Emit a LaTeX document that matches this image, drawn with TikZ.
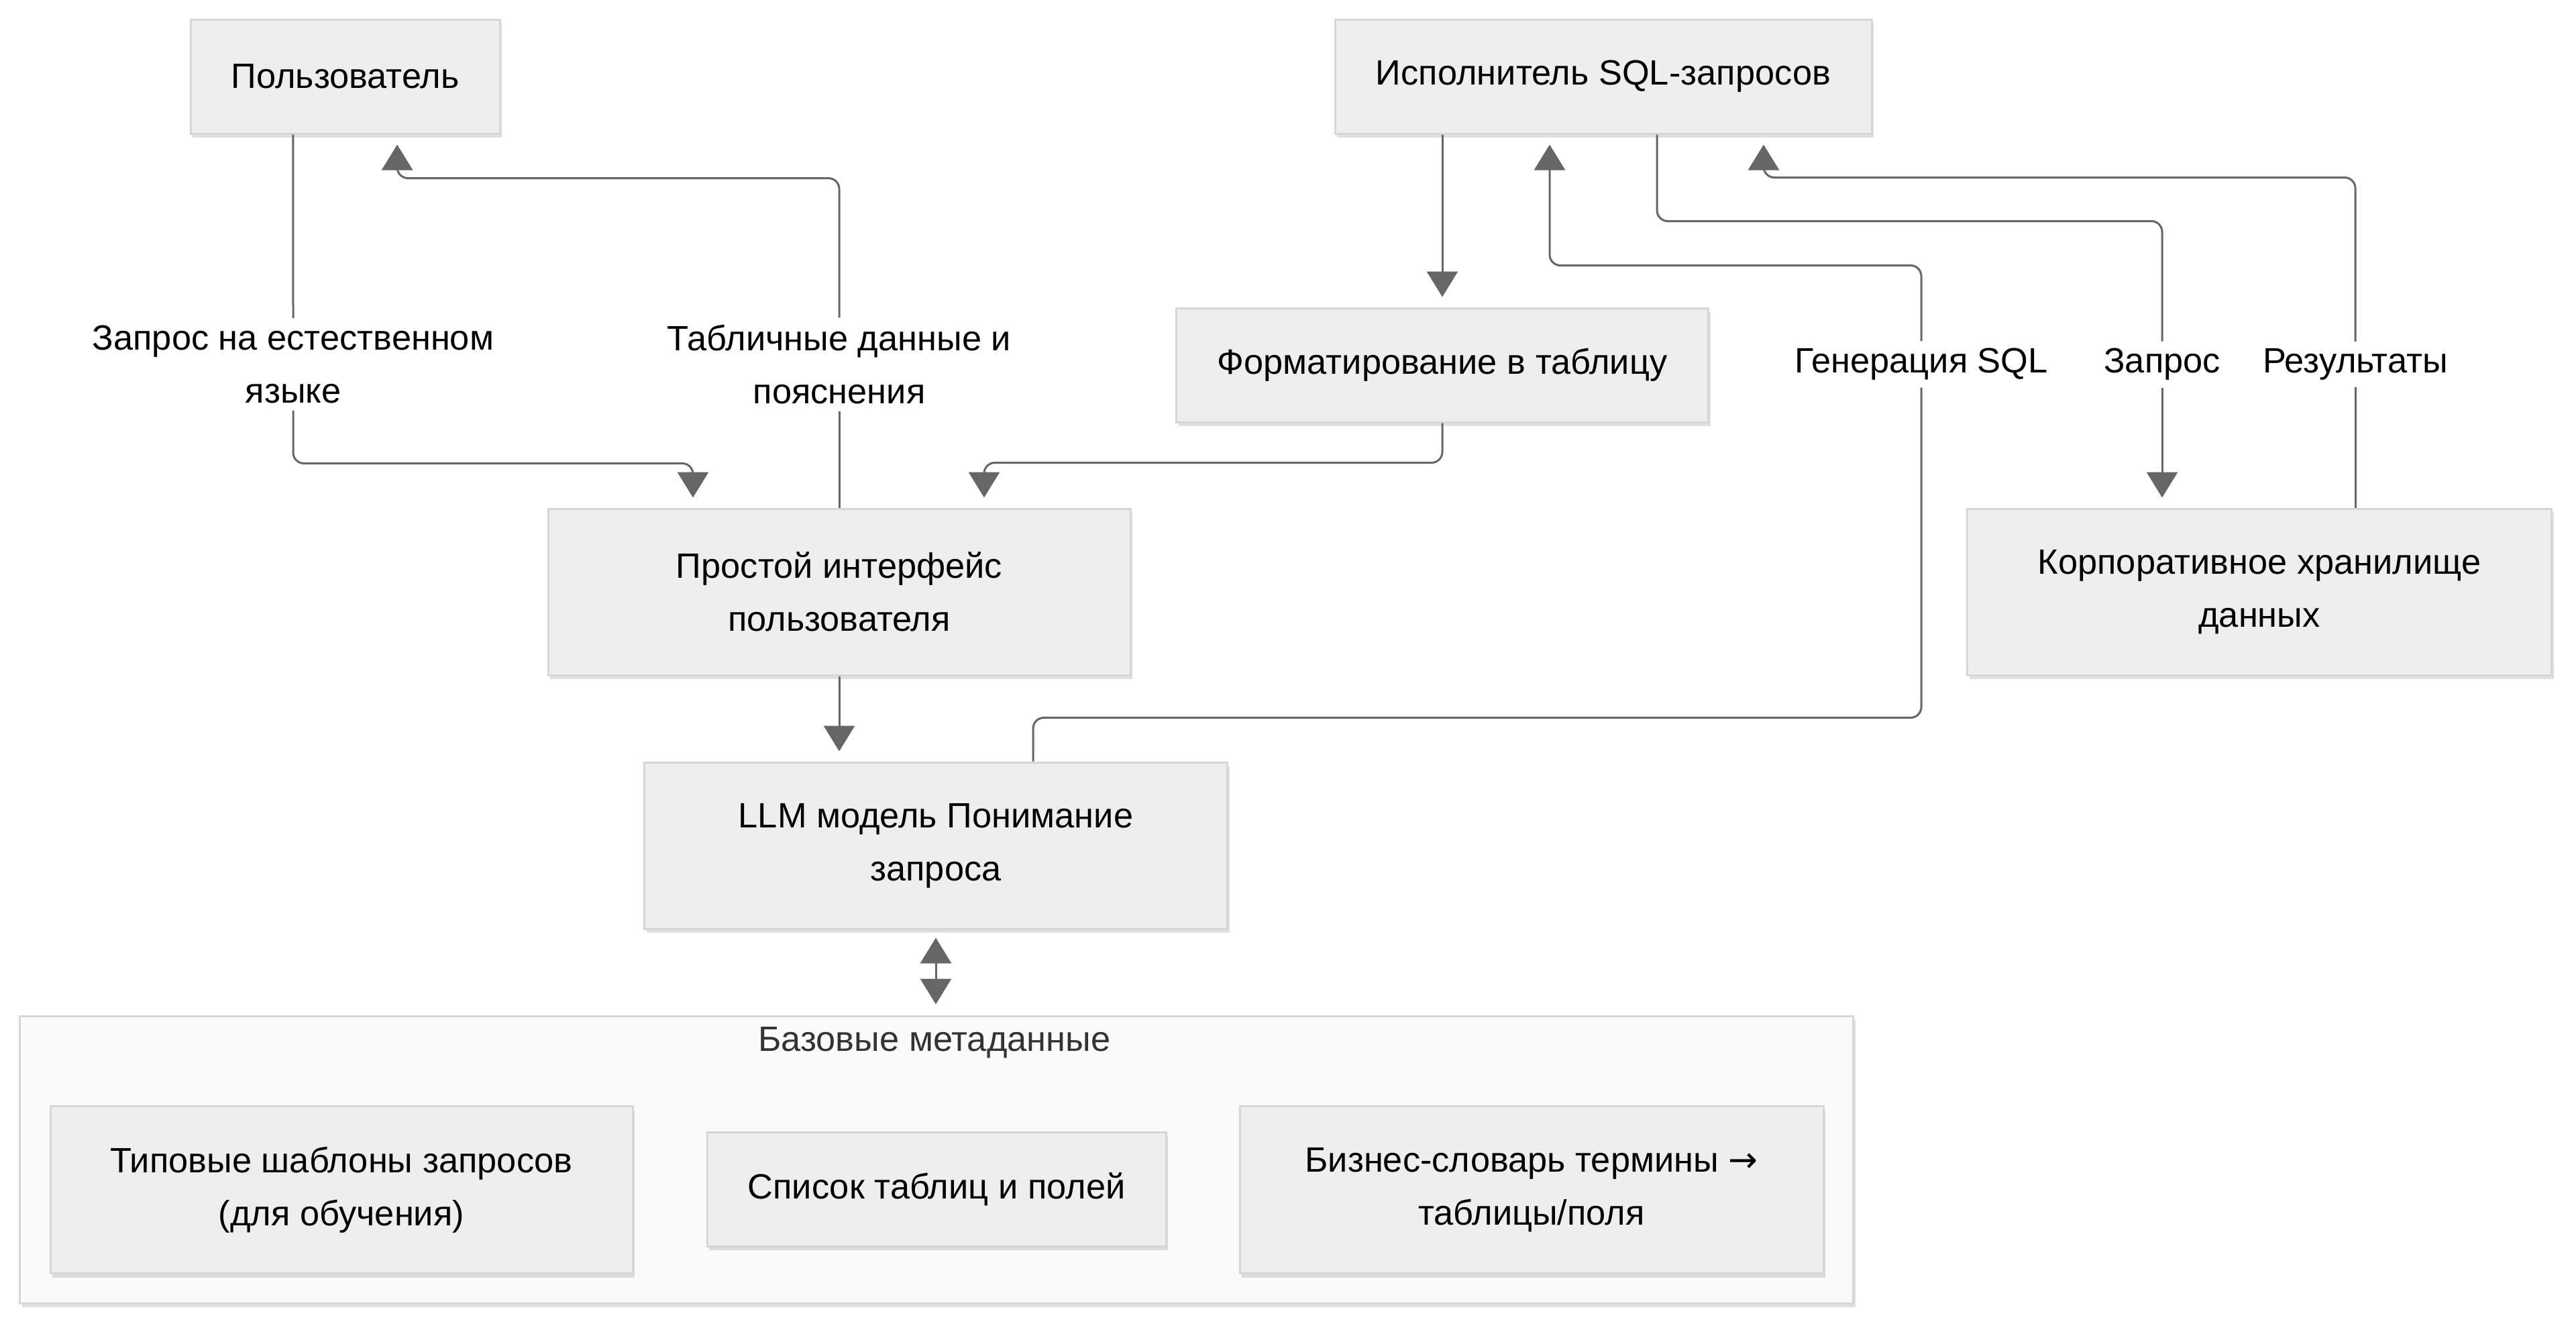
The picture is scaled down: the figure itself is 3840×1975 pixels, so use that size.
\documentclass[tikz,border=0pt]{standalone}
\usepackage{fontspec}
\setmainfont{Liberation Sans}
\newfontfamily\arrowfont{DejaVu Sans}
\usetikzlibrary{arrows.meta, shadows}

\definecolor{boxfill}{HTML}{EEEEEE}
\definecolor{boxline}{HTML}{D6D6D6}
\definecolor{edgegray}{HTML}{666666}
\definecolor{groupfill}{HTML}{FAFAFA}
\definecolor{titlegray}{HTML}{333333}

\tikzset{
  block/.style={draw=boxline, line width=0.75pt, fill=boxfill, align=center,
    inner sep=0pt, font=\fontsize{13.1}{19.75}\selectfont,
    drop shadow={shadow xshift=0.75pt, shadow yshift=-1.5pt, fill=black, opacity=0.12}},
  group/.style={draw=boxline, line width=0.75pt, fill=groupfill, inner sep=0pt,
    drop shadow={shadow xshift=0.75pt, shadow yshift=-1.5pt, fill=black, opacity=0.12}},
  tag/.style={align=center, inner xsep=2pt, inner ysep=2.5pt,
    font=\fontsize{13.1}{19.75}\selectfont},
  wire/.style={draw=edgegray, line width=0.75pt, rounded corners=4pt},
  flow/.style={wire, -{Triangle[width=11.5pt, length=9.5pt]}, shorten >=3.75pt},
  both/.style={wire, {Triangle[width=11.5pt, length=9.5pt]}-{Triangle[width=11.5pt, length=9.5pt]},
    shorten >=4pt, shorten <=3pt}
}

\begin{document}
\begin{tikzpicture}[x=0.25pt, y=-0.25pt]
  \useasboundingbox (0, 0) rectangle (3840, 1975);

  % Metadata group
  \node[group, minimum width=683.25pt, minimum height=107pt] (base) at (1396, 1728) {};
  \node[text=titlegray, font=\fontsize{13.1}{15}\selectfont] (basetitle) at (1393, 1554) {Базовые метаданные};
  \node[block, minimum width=217pt, minimum height=62.25pt] (typ) at (509, 1773)
    {Типовые шаблоны запросов\\(для обучения)};
  \node[block, minimum width=171pt, minimum height=42.5pt] (spis) at (1396, 1772)
    {Список таблиц и полей};
  \node[block, minimum width=217.5pt, minimum height=62.25pt] (biz) at (2283, 1773)
    {Бизнес-словарь термины {\arrowfont →}\\таблицы/поля};

  % Top row
  \node[block, minimum width=115.25pt, minimum height=42.5pt] (user) at (514.5, 114) {Пользователь};
  \node[block, minimum width=200pt, minimum height=42.5pt] (exec) at (2390, 114) {Исполнитель SQL-запросов};

  % Middle
  \node[block, minimum width=198.25pt, minimum height=42.5pt] (format) at (2150, 544) {Форматирование в таблицу};
  \node[block, minimum width=217pt, minimum height=62pt] (prost) at (1251, 882)
    {Простой интерфейс\\пользователя};
  \node[block, minimum width=217.75pt, minimum height=62pt] (korp) at (3368, 882)
    {Корпоративное хранилище\\данных};
  \node[block, minimum width=217.25pt, minimum height=62pt] (llm) at (1395, 1260)
    {LLM модель Понимание\\запроса};

  % Edge labels
  \node[tag] (qtag) at (437, 543) {Запрос на естественном\\языке};
  \node[tag] (ttag) at (1251, 543) {Табличные данные и\\пояснения};
  \node[tag] (gtag) at (2864, 543) {Генерация SQL};
  \node[tag] (ztag) at (3223, 543) {Запрос};
  \node[tag] (rtag) at (3511, 543) {Результаты};

  % User <-> interface
  \draw[wire] ([xshift=-19.4pt]user.south) -- (qtag.north);
  \draw[flow] (qtag.south) |- ([xshift=-54.5pt, yshift=16.5pt]prost.north) -- ([xshift=-54.5pt]prost.north);
  \draw[wire] (prost.north) -- (ttag.south);
  \draw[flow] (ttag.north) |- ([xshift=19.4pt, yshift=-16.25pt]user.south) -- ([xshift=19.4pt]user.south);

  % Formatting
  \draw[flow] (exec.south -| format.north) -- (format.north);
  \draw[flow] (format.south) |- ([xshift=54pt, yshift=16.75pt]prost.north) -- ([xshift=54pt]prost.north);

  % Interface -> LLM <-> metadata
  \draw[flow] (prost.south) -- (llm.north -| prost.south);
  \draw[both] (llm.south) -- (base.north -| llm.south);

  % SQL generation
  \draw[wire] ([xshift=36.25pt]llm.north) -- ++(0, -65) -| (gtag.south);
  \draw[flow] (gtag.north) |- ([xshift=-20pt, yshift=-48.75pt]exec.south) -- ([xshift=-20pt]exec.south);

  % Warehouse
  \draw[wire] ([xshift=20pt]exec.south) -- ++(0, 129) -| (ztag.north);
  \draw[flow] (ztag.south) -- (korp.north -| ztag.south);
  \draw[wire] (korp.north -| rtag.south) -- (rtag.south);
  \draw[flow] (rtag.north) |- ([xshift=59.75pt, yshift=-16pt]exec.south) -- ([xshift=59.75pt]exec.south);
\end{tikzpicture}
\end{document}
